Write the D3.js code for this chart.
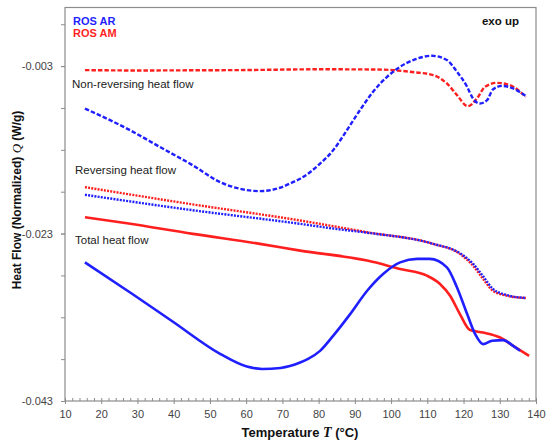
<!DOCTYPE html>
<head>
<meta charset="UTF-8">
<script src="https://d3js.org/d3.v7.min.js"></script>
<style>
body { margin: 0; background: #fff; }
svg { display: block; font-family: "Liberation Sans", Arial, sans-serif; }
.frame { fill: none; stroke: #8c8c8c; stroke-width: 1.2px; }
.tick line { stroke: #8c8c8c; }
.tick text { fill: #444; font-size: 11px; }
.domain { display: none; }
.note { fill: #222; font-size: 11.5px; }
</style>
</head>
<body>
<script>

var width = 550,
    height = 446;

var margin = {left: 65, right: 14, top: 7.5, bottom: 45};

// temperatures (°C) and heat flow (W/g)
var nonrevAR_T = [15.5, 27.1, 36.2, 45.3, 52.8, 58.3, 63.8, 69.3, 72.9, 74.9, 80.4, 84.0, 87.8, 91.4, 95.0, 98.9, 102.5, 106.1, 111.3, 115.4, 118.2, 121.0, 122.6, 124.5, 126.5, 128.1, 130.6, 133.7, 137.2];
var nonrevAR_Q = [-0.00807, -0.01046, -0.01266, -0.01486, -0.01686, -0.01765, -0.01793, -0.01753, -0.01686, -0.01645, -0.01465, -0.01306, -0.01066, -0.00827, -0.00608, -0.00428, -0.00308, -0.00228, -0.00177, -0.00228, -0.00368, -0.00548, -0.00687, -0.00747, -0.00707, -0.00579, -0.00536, -0.00567, -0.00659];

var nonrevAM_T = [15.5, 30, 45, 60, 80, 95, 100.5, 105.2, 111.6, 115.4, 118.2, 121.2, 123.7, 125.9, 129.2, 132.8, 137.2];
var nonrevAM_Q = [-0.00348, -0.00352, -0.00350, -0.00347, -0.00338, -0.00340, -0.00348, -0.00368, -0.00408, -0.00507, -0.00647, -0.00779, -0.00687, -0.00548, -0.00500, -0.00528, -0.00668];

var revAR_T = [15.5, 45, 74.9, 84.0, 93.4, 111.6, 119.0, 122.6, 125.4, 128.1, 132.0, 137.2];
var revAR_Q = [-0.01837, -0.02020, -0.02184, -0.02240, -0.02290, -0.02423, -0.02535, -0.02660, -0.02810, -0.02960, -0.03035, -0.03070];

var revAM_T = [15.5, 45, 74.9, 93.4, 111.6, 119.0, 122.6, 125.4, 128.1, 132.0, 137.2];
var revAM_Q = [-0.01746, -0.01950, -0.02144, -0.02284, -0.02423, -0.02543, -0.02683, -0.02843, -0.02983, -0.03043, -0.03070];

var totalAR_T = [15.5, 28.8, 39.8, 52.8, 60.2, 64.4, 69.5, 74.9, 77.1, 80.4, 84.0, 88.7, 93.4, 97.8, 102.5, 107.2, 110.7, 115.4, 118.2, 121.0, 123.2, 125.4, 127.9, 130.9, 133.7, 135.6];
var totalAR_Q = [-0.02644, -0.03028, -0.03354, -0.03737, -0.03889, -0.03917, -0.03905, -0.03841, -0.03797, -0.03701, -0.03522, -0.03262, -0.02983, -0.02783, -0.02644, -0.02603, -0.02603, -0.02704, -0.02944, -0.03262, -0.03501, -0.03621, -0.03581, -0.03573, -0.03641, -0.03700];

var totalAM_T = [15.5, 27.1, 45.3, 63.8, 74.9, 93.4, 102.5, 109.9, 113.5, 116.3, 119.0, 121.8, 125.4, 130.1, 133.7, 138.1];
var totalAM_Q = [-0.02105, -0.02177, -0.02304, -0.02423, -0.02504, -0.02623, -0.02723, -0.02803, -0.02902, -0.03043, -0.03262, -0.03453, -0.03482, -0.03542, -0.03641, -0.03761];

var xTicks = [10, 20, 30, 40, 50, 60, 70, 80, 90, 100, 110, 120, 130, 140];
var yTicks = [-0.043, -0.023, -0.003];
var yMinor = [-0.043, -0.038, -0.033, -0.028, -0.023, -0.018, -0.013, -0.008, -0.003, 0.002];

var blue = "#1f1fff",
    red = "#ff1f1f";

var series = [
    {T: nonrevAM_T, Q: nonrevAM_Q, color: red, dash: "4.5,2"},
    {T: nonrevAR_T, Q: nonrevAR_Q, color: blue, dash: "4.5,2"},
    {T: revAM_T, Q: revAM_Q, color: red, dash: "2,1.2"},
    {T: revAR_T, Q: revAR_Q, color: blue, dash: "2,1.2"},
    {T: totalAM_T, Q: totalAM_Q, color: red, dash: null},
    {T: totalAR_T, Q: totalAR_Q, color: blue, dash: null}
];

var x = d3.scaleLinear().domain([10, 140]).range([margin.left, width - margin.right]);
var y = d3.scaleLinear().domain([-0.043, 0.004]).range([height - margin.bottom, margin.top]);

var svg = d3.select("body").append("svg")
    .attr("width", width)
    .attr("height", height);

var line = d3.line()
    .x(function(d) { return x(d[0]); })
    .y(function(d) { return y(d[1]); })
    .curve(d3.curveMonotoneX);

svg.append("rect")
    .attr("class", "frame")
    .attr("x", x(10))
    .attr("y", y(0.004))
    .attr("width", x(140) - x(10))
    .attr("height", y(-0.043) - y(0.004));

// x axis: minor ticks every 2 degrees pointing in
svg.append("g")
    .attr("transform", "translate(0," + y(-0.043) + ")")
    .call(d3.axisBottom(x).tickValues(d3.range(10, 141, 2)).tickSize(-3).tickFormat(""));

svg.append("g")
    .attr("transform", "translate(0," + y(-0.043) + ")")
    .call(d3.axisBottom(x).tickValues(xTicks).tickSize(3).tickPadding(6).tickFormat(d3.format("d")));

// y axis
svg.append("g")
    .attr("transform", "translate(" + x(10) + ",0)")
    .call(d3.axisLeft(y).tickValues(yMinor).tickSize(4).tickFormat(""));

svg.append("g")
    .attr("transform", "translate(" + x(10) + ",0)")
    .call(d3.axisLeft(y).tickValues(yTicks).tickSize(4).tickPadding(8)
        .tickFormat(function(d) { return d3.format(".3f")(d).replace("−", "-"); }));

series.forEach(function(s) {
    svg.append("path")
        .datum(d3.zip(s.T, s.Q))
        .attr("fill", "none")
        .attr("stroke", s.color)
        .attr("stroke-width", s.dash ? 2.4 : 2.6)
        .attr("stroke-dasharray", s.dash)
        .attr("d", line);
});

// labels
svg.append("text").attr("class", "note").attr("x", 72).attr("y", 88).text("Non-reversing heat flow");
svg.append("text").attr("class", "note").attr("x", 75).attr("y", 174).text("Reversing heat flow");
svg.append("text").attr("class", "note").attr("x", 75).attr("y", 244).text("Total heat flow");

svg.append("text").attr("x", 73).attr("y", 25)
    .attr("fill", blue).attr("font-weight", "bold").attr("font-size", 11).text("ROS AR");
svg.append("text").attr("x", 73).attr("y", 36.5)
    .attr("fill", red).attr("font-weight", "bold").attr("font-size", 11).text("ROS AM");

svg.append("text").attr("x", 519).attr("y", 25).attr("text-anchor", "end")
    .attr("fill", "#111").attr("font-weight", "bold").attr("font-size", 11.5).text("exo up");

// axis titles
var xt = svg.append("text")
    .attr("x", 300).attr("y", 437)
    .attr("text-anchor", "middle")
    .attr("font-weight", "bold").attr("font-size", 13).attr("fill", "#111");
xt.append("tspan").text("Temperature ");
xt.append("tspan").attr("font-family", "Liberation Serif, serif").attr("font-style", "italic").attr("font-size", 14).text("T");
xt.append("tspan").text(" (°C)");

var yt = svg.append("text")
    .attr("transform", "translate(21,200) rotate(-90)")
    .attr("text-anchor", "middle")
    .attr("font-weight", "bold").attr("font-size", 12).attr("fill", "#111");
yt.append("tspan").text("Heat Flow (Normalized) ");
yt.append("tspan").attr("font-family", "Liberation Serif, serif").attr("font-style", "italic").attr("font-weight", "normal").attr("font-size", 13).text("Q");
yt.append("tspan").text(" (W/g)");

</script>
</body>
